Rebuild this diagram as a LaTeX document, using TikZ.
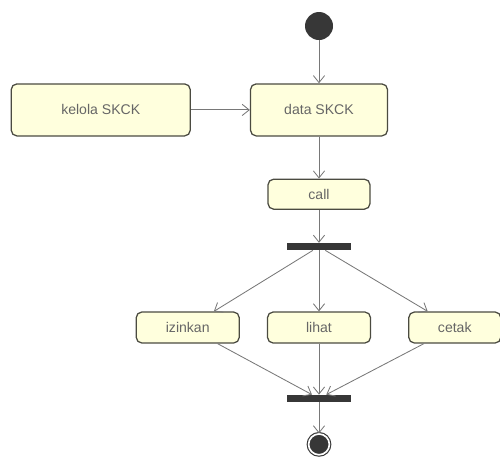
\documentclass[tikz,border=0pt]{standalone}
\usepackage{fontspec}
\setmainfont{Liberation Sans}
\usepackage{tikz}
\usetikzlibrary{positioning}
\usetikzlibrary{arrows.meta}
\definecolor{boxfill}{RGB}{255,255,221}
\definecolor{boxline}{RGB}{75,75,65}
\definecolor{flowline}{RGB}{120,120,120}
\definecolor{barfill}{RGB}{55,55,55}
\tikzset{act node/.style={rectangle,rounded corners=4pt,fill=boxfill,draw=boxline,line width=0.9pt,minimum height=1.3cm,inner sep=0pt,font=\fontsize{10}{12}\selectfont,text=black!60},}
\tikzset{bar node/.style={rectangle,fill=barfill,draw=none,minimum width=1.6cm,minimum height=0.175cm,inner sep=0pt},}
\tikzset{start node/.style={circle,fill=barfill,draw=none,minimum size=0.7cm,inner sep=0pt},}
\tikzset{end node/.style={circle,fill=barfill,draw=barfill,line width=0.8pt,double=white,double distance=1.2pt,minimum size=0.52cm,inner sep=0pt},}

\begin{document}
\begin{tikzpicture}[-{Straight Barb[length=5pt,width=8pt]}, node distance=1cm]
    \useasboundingbox (0,0) rectangle (12.5,-11.475);
    \node[start node] (start) at (7.975,-0.65) {};
    \node[act node, minimum width=3.425cm] (data) [below=1.075cm of start] {data SKCK};
    \node[act node, minimum width=4.475cm] (kelola) [left=1.475cm of data] {kelola SKCK};
    \node[act node, minimum width=2.55cm, minimum height=0.75cm] (call) [below=1.05cm of data] {call};
    \node[bar node] (fork) [below=0.825cm of call] {};
    \node[act node, minimum width=2.575cm, minimum height=0.775cm] (lihat) [below=1.525cm of fork] {lihat};
    \node[act node, minimum width=2.575cm, minimum height=0.775cm] (izinkan) [left=0.675cm of lihat] {izinkan};
    \node[act node, minimum width=2.3cm, minimum height=0.775cm] (cetak) [right=0.925cm of lihat] {cetak};
    \node[bar node] (join) [below=1.275cm of lihat] {};
    \node[end node] (end) [below=0.78cm of join] {};

    \path[draw,flowline,line width=0.6pt]
    (start) edge (data)
    (kelola) edge (data)
    (data) edge (call)
    (call) edge (fork)
    (fork) edge (izinkan)
    (fork) edge (lihat)
    (fork) edge (cetak)
    (izinkan) edge (join)
    (lihat) edge (join)
    (cetak) edge (join)
    (join) edge (end);
\end{tikzpicture}
\end{document}
